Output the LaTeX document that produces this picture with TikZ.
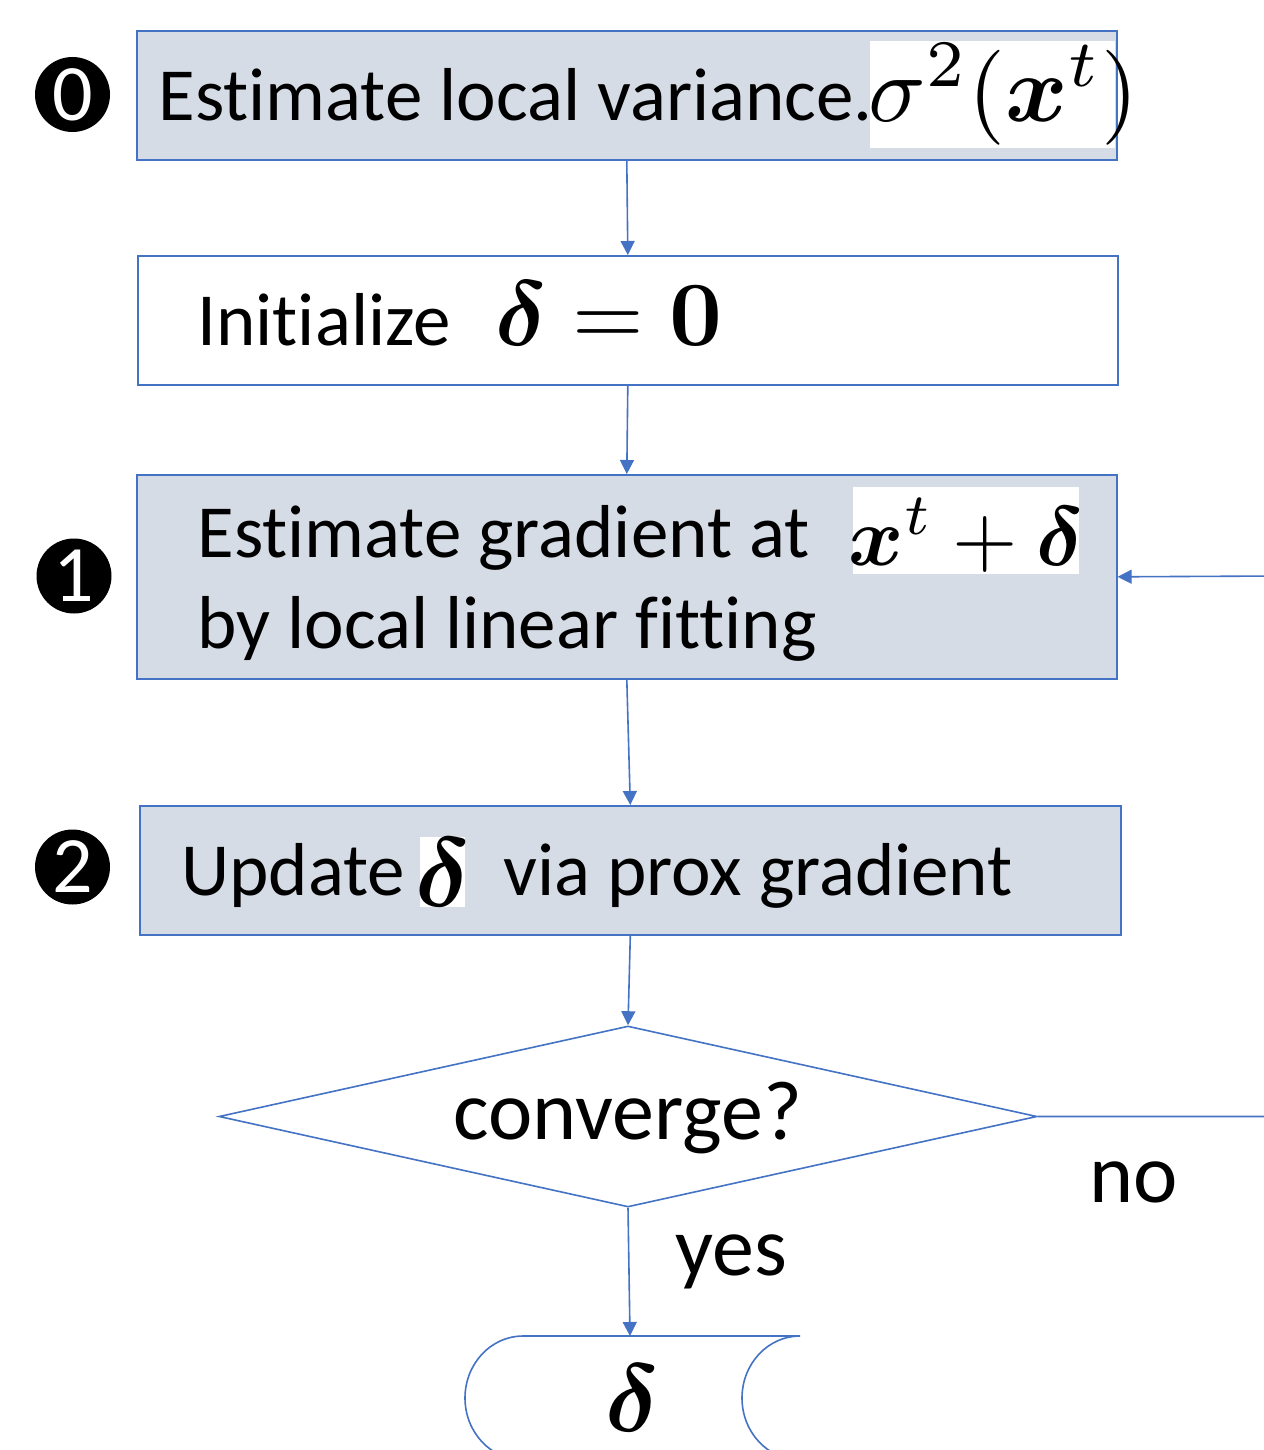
\documentclass[tikz,border=0pt]{standalone}
\usepackage{amsmath,bm,graphicx}
\usepackage[no-math]{fontspec}
\setmainfont[Ligatures=NoCommon]{Carlito}
\usetikzlibrary{arrows.meta,shapes.geometric}
\definecolor{boxfill}{HTML}{D6DCE5}
\definecolor{boxline}{HTML}{4472C4}
% math set at 10pt and enlarged to the wanted size
\newcommand{\bigmath}[2]{\scalebox{#1}{$#2$}}

\begin{document}
\begin{tikzpicture}[x=0.5pt,y=-0.5pt,
  box/.style={draw=boxline,line width=0.8pt,fill=boxfill,inner sep=0pt,anchor=north west},
  plainbox/.style={box,fill=white},
  txt/.style={anchor=base west,inner sep=0pt,font=\fontsize{37.5}{45}\selectfont},
  lbl/.style={anchor=base west,inner sep=0pt,font=\fontsize{42}{50}\selectfont},
  mathpatch/.style={fill=white,inner sep=0pt,anchor=north west},
  flow/.style={draw=boxline,line width=0.8pt,-{Triangle[length=7pt,width=7pt]}},
  badge/.style={circle,fill=black,text=white,inner sep=0pt,minimum size=37.5pt,font=\fontsize{40}{48}\selectfont}
]
\useasboundingbox (0,0) rectangle (1263,1450);

% process boxes
\node[box,minimum width=490pt,minimum height=64.5pt] (s0) at (136,30) {};
\node[plainbox,minimum width=490pt,minimum height=64.5pt] (init) at (137,255) {};
\node[box,minimum width=490pt,minimum height=102pt] (s1) at (136,474) {};
\node[box,minimum width=490.5pt,minimum height=64.5pt] (s2) at (139,805) {};

% step badges
\node[badge] (n0) at (72.5,94.5) {0};
\node[badge] (n1) at (74,576) {1};
\node[badge] (n2) at (72.5,867) {2};

% box texts; formulas sit on white patches
\node[txt] (t0) at (158,120) {Estimate local variance.};
\node[mathpatch,minimum width=122.5pt,minimum height=53.5pt] (p0) at (870,41) {};
\node[anchor=base west,inner sep=0pt] (m0) at (868,121) {\bigmath{4.75}{\sigma^2(\bm{x}^t)}};

\node[txt] (t1) at (197,345) {Initialize};
\node[anchor=base west,inner sep=0pt] (m1) at (495,345) {\bigmath{4.6}{\bm{\delta} = \mathbf{0}}};

\node[txt] (t2a) at (197,557) {Estimate gradient at};
\node[txt] (t2b) at (197,648) {by local linear fitting};
\node[mathpatch,minimum width=113pt,minimum height=43.5pt] (p2) at (853,487) {};
\node[anchor=base,inner sep=0pt] (m2) at (966,565) {\bigmath{4.2}{\bm{x}^t+\bm{\delta}}};

\node[txt] (t3a) at (181,895) {Update};
\node[mathpatch,minimum width=22.5pt,minimum height=35pt] (p3) at (420,837) {};
\node[inner sep=0pt] (m3) at (442.5,872) {\bigmath{4.9}{\bm{\delta}}};
\node[txt] (t3b) at (503,895) {via prox gradient};

% decision
\node[diamond,draw=boxline,line width=0.8pt,inner sep=0pt,minimum width=409pt,minimum height=90.5pt] (conv) at (628,1116.5) {};
\node[lbl] (tc) at (453,1139) {converge?};
\node[lbl] (tno) at (1089,1202) {no};
\node[lbl] (tyes) at (675,1275) {yes};

% output (stored data) shape
\coordinate (outtop) at (630,1336);
\draw[boxline,line width=0.8pt] (523,1336) -- (800,1336)
  arc[start angle=90,end angle=270,x radius=29pt,y radius=31pt] -- (523,1460)
  arc[start angle=270,end angle=90,x radius=29pt,y radius=31pt];
\node[inner sep=0pt] (res) at (632,1398) {\bigmath{4.8}{\bm{\delta}}};

% connectors
\draw[flow] (s0.south) -- (init.north);
\draw[flow] (init.south) -- (s1.north);
\draw[flow] (s1.south) -- (s2.north);
\draw[flow] (s2.south) -- (conv.north);
\draw[flow] (conv.south) -- (outtop);
\draw[flow] (conv.east) -- (1280,1116.5) -- (1280,576) -- (s1.east);
\end{tikzpicture}
\end{document}
